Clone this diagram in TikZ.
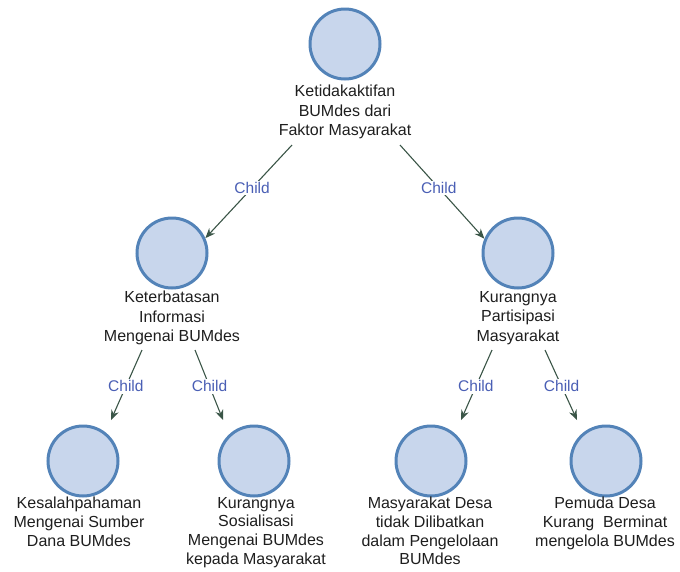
\documentclass[tikz,border=0pt]{standalone}
\usepackage{fontspec}
\setmainfont{Liberation Sans}
\usetikzlibrary{arrows.meta,calc}
\definecolor{circfill}{HTML}{C8D6EC}
\definecolor{circline}{HTML}{5383B8}
\definecolor{edgecol}{HTML}{3A5547}
\definecolor{childcol}{HTML}{4A5FB5}
\definecolor{txtcol}{HTML}{1E1E1E}
\begin{document}
\begin{tikzpicture}[x=1pt,y=-1pt,
  bub/.style={circle,minimum size=70pt,inner sep=0pt,fill=circfill,draw=circline,line width=3pt},
  lab/.style={anchor=north,align=center,inner sep=0pt,text=txtcol,font=\fontsize{16}{19.5}\selectfont},
  lowlab/.style={lab,font=\fontsize{16}{18.6}\selectfont},
  edge/.style={draw=edgecol,line width=1.1pt,-{Stealth[length=10pt,width=8pt]}},
  ch/.style={fill=white,inner sep=1.5pt,text=childcol,font=\fontsize{15.5}{18}\selectfont}]
\useasboundingbox (0,0) rectangle (680,571);
% nodes
\node[bub] (c1) at (345,44) {};
\node[lab] (l1) at (345,85) {Ketidakaktifan\\BUMdes dari\\Faktor Masyarakat};
\node[bub] (c2) at (172,253) {};
\node[lab] (l2) at (172,291) {Keterbatasan\\Informasi\\Mengenai BUMdes};
\node[bub] (c3) at (518,253) {};
\node[lab] (l3) at (518,291) {Kurangnya\\Partisipasi\\Masyarakat};
\node[bub] (c4) at (83,461) {};
\node[lowlab] (l4) at (79,497) {Kesalahpahaman\\Mengenai Sumber\\Dana BUMdes};
\node[bub] (c5) at (254,461) {};
\node[lowlab] (l5) at (256,497) {Kurangnya\\Sosialisasi\\Mengenai BUMdes\\kepada Masyarakat};
\node[bub] (c6) at (431,461) {};
\node[lowlab] (l6) at (430,497) {Masyarakat Desa\\tidak Dilibatkan\\dalam Pengelolaan\\BUMdes};
\node[bub] (c7) at (606,461) {};
\node[lowlab] (l7) at (605,497) {Pemuda Desa\\Kurang\ \ Berminat\\mengelola BUMdes};
% connector ends
\coordinate (s1) at (292,145);
\coordinate (s2) at (400,145);
\coordinate (s3) at (142,350);
\coordinate (s4) at (195,350);
\coordinate (s5) at (492,350);
\coordinate (s6) at (545,350);
\coordinate (t4) at (111,420);
\coordinate (t5) at (223,420);
\coordinate (t6) at (461,420);
\coordinate (t7) at (577,420);
% connectors
\draw[edge] (s1) -- node[ch,pos=0.46] {Child} (c2.24);
\draw[edge] (s2) -- node[ch,pos=0.46] {Child} (c3.157);
\draw[edge] (s3) -- node[ch,pos=0.52] {Child} (t4);
\draw[edge] (s4) -- node[ch,pos=0.52] {Child} (t5);
\draw[edge] (s5) -- node[ch,pos=0.52] {Child} (t6);
\draw[edge] (s6) -- node[ch,pos=0.52] {Child} (t7);
\end{tikzpicture}
\end{document}
